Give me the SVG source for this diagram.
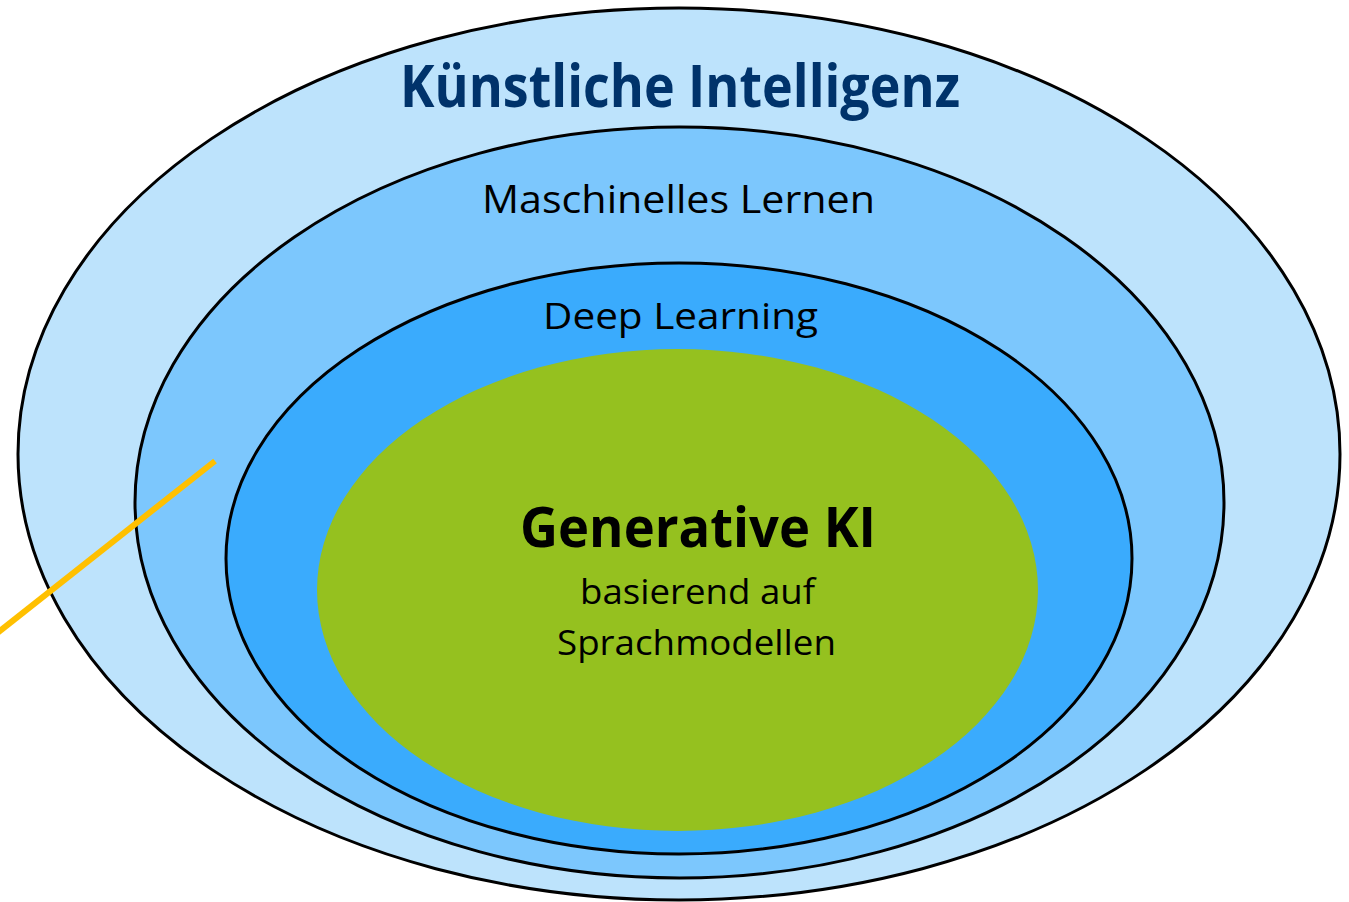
<svg xmlns="http://www.w3.org/2000/svg" width="1349" height="902" viewBox="0 0 1349 902">
  <style>
    .ring { stroke: #000; stroke-width: 3; }
    .lbl { font-family: "Open Sans", "Liberation Sans", sans-serif; text-anchor: middle; fill: #000; }
    .bold { font-weight: 700; }
  </style>
  <rect width="1349" height="902" fill="#fff"/>

  <g id="ki">
    <ellipse class="ring" cx="679" cy="454" rx="661" ry="446" fill="#BDE3FC"/>
    <text class="lbl bold" x="680" y="107" font-size="59" fill="#00336B" style="fill:#00336B" textLength="560" lengthAdjust="spacingAndGlyphs">Künstliche Intelligenz</text>
  </g>

  <g id="ml">
    <ellipse class="ring" cx="679.5" cy="502.5" rx="544.5" ry="375.5" fill="#7CC7FD"/>
    <text class="lbl" x="678.5" y="213" font-size="39" textLength="393" lengthAdjust="spacingAndGlyphs">Maschinelles Lernen</text>
  </g>

  <g id="dl">
    <ellipse class="ring" cx="679" cy="558.5" rx="453" ry="295.5" fill="#3AABFD"/>
    <text class="lbl" x="680.5" y="329" font-size="36" textLength="275" lengthAdjust="spacingAndGlyphs">Deep Learning</text>
  </g>

  <g id="genai">
    <ellipse cx="677.5" cy="590" rx="360.5" ry="241" fill="#95C11F"/>
    <text class="lbl bold" x="698" y="547" font-size="55" textLength="356" lengthAdjust="spacingAndGlyphs">Generative KI</text>
    <text class="lbl" x="697.5" y="604" font-size="35" textLength="235" lengthAdjust="spacingAndGlyphs">basierend auf</text>
    <text class="lbl" x="696.5" y="655" font-size="35" textLength="279" lengthAdjust="spacingAndGlyphs">Sprachmodellen</text>
  </g>

  <g id="connectors">
    <line x1="215" y1="461" x2="-4" y2="634" stroke="#FFC000" stroke-width="6"/>
  </g>
</svg>
